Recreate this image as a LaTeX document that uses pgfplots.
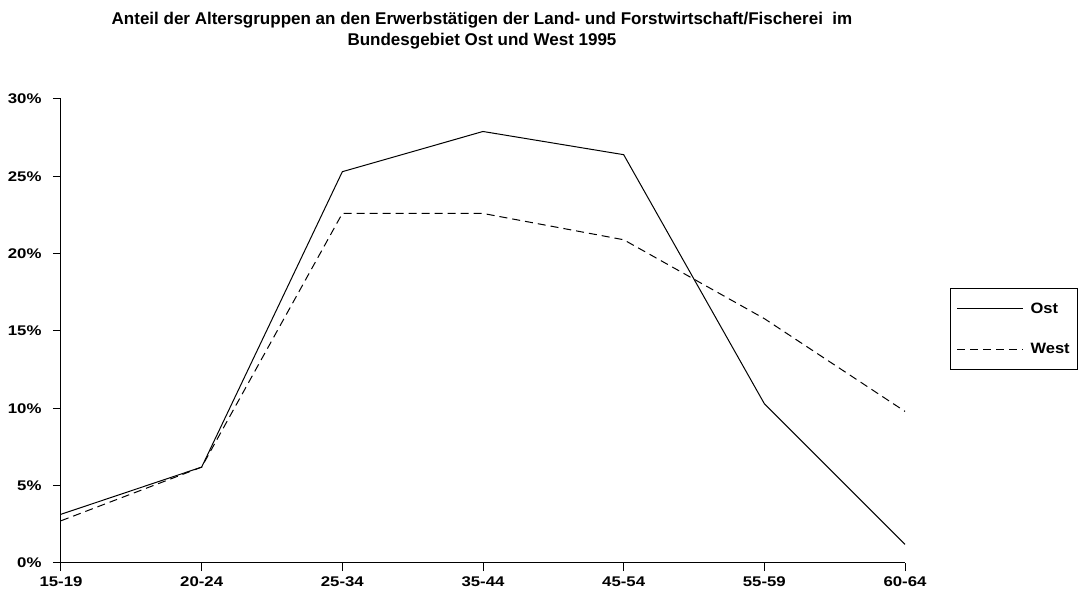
\documentclass[border=0pt]{standalone}
\usepackage{pgfplots}
\pgfplotsset{compat=1.18}
\usepackage{fontspec}
\setmainfont{Liberation Sans}
\newfontfamily\tickfont[FakeStretch=1.2]{Liberation Sans}
\newfontfamily\legfont[FakeStretch=1.1]{Liberation Sans}

\begin{document}
\begin{tikzpicture}
\begin{axis}[
    scale only axis,
    width=844pt, height=464pt,
    xmin=0, xmax=6, ymin=0, ymax=30,
    axis x line=bottom, axis y line=left,
    axis line style={-, line width=1pt},
    tick align=outside, major tick length=8pt,
    tick style={line width=1pt, black},
    xtick={0,...,6},
    xticklabels={15-19,20-24,25-34,35-44,45-54,55-59,60-64},
    ytick={0,5,...,30},
    yticklabel={\pgfmathprintnumber{\tick}\%},
    /pgf/number format/assume math mode=true,
    ticklabel style={font=\tickfont\fontsize{14}{16}\selectfont\bfseries},
    xticklabel style={yshift=-2pt},
    yticklabel style={xshift=-8pt},
    title={Anteil der Altersgruppen an den Erwerbstätigen der Land- und Forstwirtschaft/Fischerei\ \ im\\Bundesgebiet Ost und West 1995},
    title style={font=\fontsize{17}{21}\selectfont\bfseries, align=center,
        at={(0.4988,1.1347)}, anchor=center},
    legend style={at={(1.0533,0.5927)}, anchor=north west, draw=black,
        line width=1.2pt, font=\legfont\fontsize{15}{17}\selectfont\bfseries,
        inner xsep=6pt, inner ysep=12pt, row sep=25pt,
        /tikz/every odd column/.append style={column sep=5pt}},
    legend cell align=left,
    legend image code/.code={\draw[#1, line width=1pt] (0pt,0pt) -- (66pt,0pt);},
    clip=false,
]
\addplot[black, line width=1pt] coordinates {
    (0,3.15) (1,6.2) (2,25.3) (3,27.9) (4,26.4) (5,10.3) (6,1.2)
};
\addlegendentry{Ost}
\addplot[black, line width=1pt, dash pattern=on 8pt off 5pt] coordinates {
    (0,2.73) (1,6.2) (2,22.6) (3,22.6) (4,20.9) (5,15.8) (6,9.8)
};
\addlegendentry{West}
\end{axis}
\pgfresetboundingbox
\path[use as bounding box] (-61pt,-34pt) rectangle (1018pt,563pt);
\end{tikzpicture}
\end{document}
